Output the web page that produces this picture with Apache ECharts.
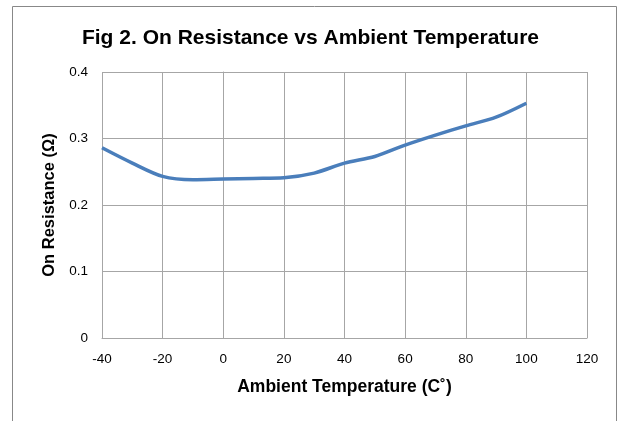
<!DOCTYPE html>
<html><head><meta charset="utf-8">
<script src="https://cdn.jsdelivr.net/npm/echarts@6/dist/echarts.min.js"></script>
<style>html,body{margin:0;padding:0;background:#fff}#c{width:621px;height:421px}</style>
</head><body><div id="c"></div>
<script>
const temps = [-40, -30, -20, -10, 0, 10, 20, 30, 40, 50, 60, 70, 80, 90, 100];
const resistance = [0.286, 0.263, 0.243, 0.238, 0.239, 0.240, 0.241, 0.248, 0.263, 0.273, 0.290, 0.305, 0.319, 0.332, 0.353];
const titleText = 'Fig 2. On Resistance vs Ambient Temperature';
const xName = 'Ambient Temperature (C˚)';
const yName = 'On Resistance (Ω)';

const chart = echarts.init(document.getElementById('c'));
const font = '"Liberation Sans", Arial, sans-serif';
chart.setOption({
  animation: false,
  graphic: [{type:'rect', shape:{x:12.5,y:6.5,width:604,height:430}, style:{fill:'none',stroke:'#888',lineWidth:1}}],
  title: {text: titleText, left: 'center', top: 23, textStyle:{fontFamily:font, fontSize:21, fontWeight:'bold', color:'#000'}},
  grid: {left:102, right:34, top:72, bottom:83},
  xAxis: {type:'value', min:-40, max:120, interval:20,
    name:xName, nameLocation:'middle', nameGap:40,
    nameTextStyle:{fontFamily:font, fontSize:17.5, fontWeight:'bold', color:'#000'},
    axisLine:{lineStyle:{color:'#a6a6a6'}}, axisTick:{show:false},
    axisLabel:{fontFamily:font, fontSize:13.5, color:'#000', margin:14},
    splitLine:{lineStyle:{color:'#a6a6a6'}}},
  yAxis: {type:'value', min:0, max:0.4, interval:0.1,
    name:yName, nameLocation:'middle', nameGap:43,
    nameTextStyle:{fontFamily:font, fontSize:16.5, fontWeight:'bold', color:'#000'},
    axisLine:{show:true, lineStyle:{color:'#a6a6a6'}}, axisTick:{show:false},
    axisLabel:{fontFamily:font, fontSize:13.5, color:'#000', margin:14},
    splitLine:{lineStyle:{color:'#a6a6a6'}}},
  series: [{type:'line', data: temps.map((t,i)=>[t, resistance[i]]), smooth:0.3, showSymbol:false,
    lineStyle:{color:'#4a7ebb', width:3.5}}]
});
</script></body></html>
